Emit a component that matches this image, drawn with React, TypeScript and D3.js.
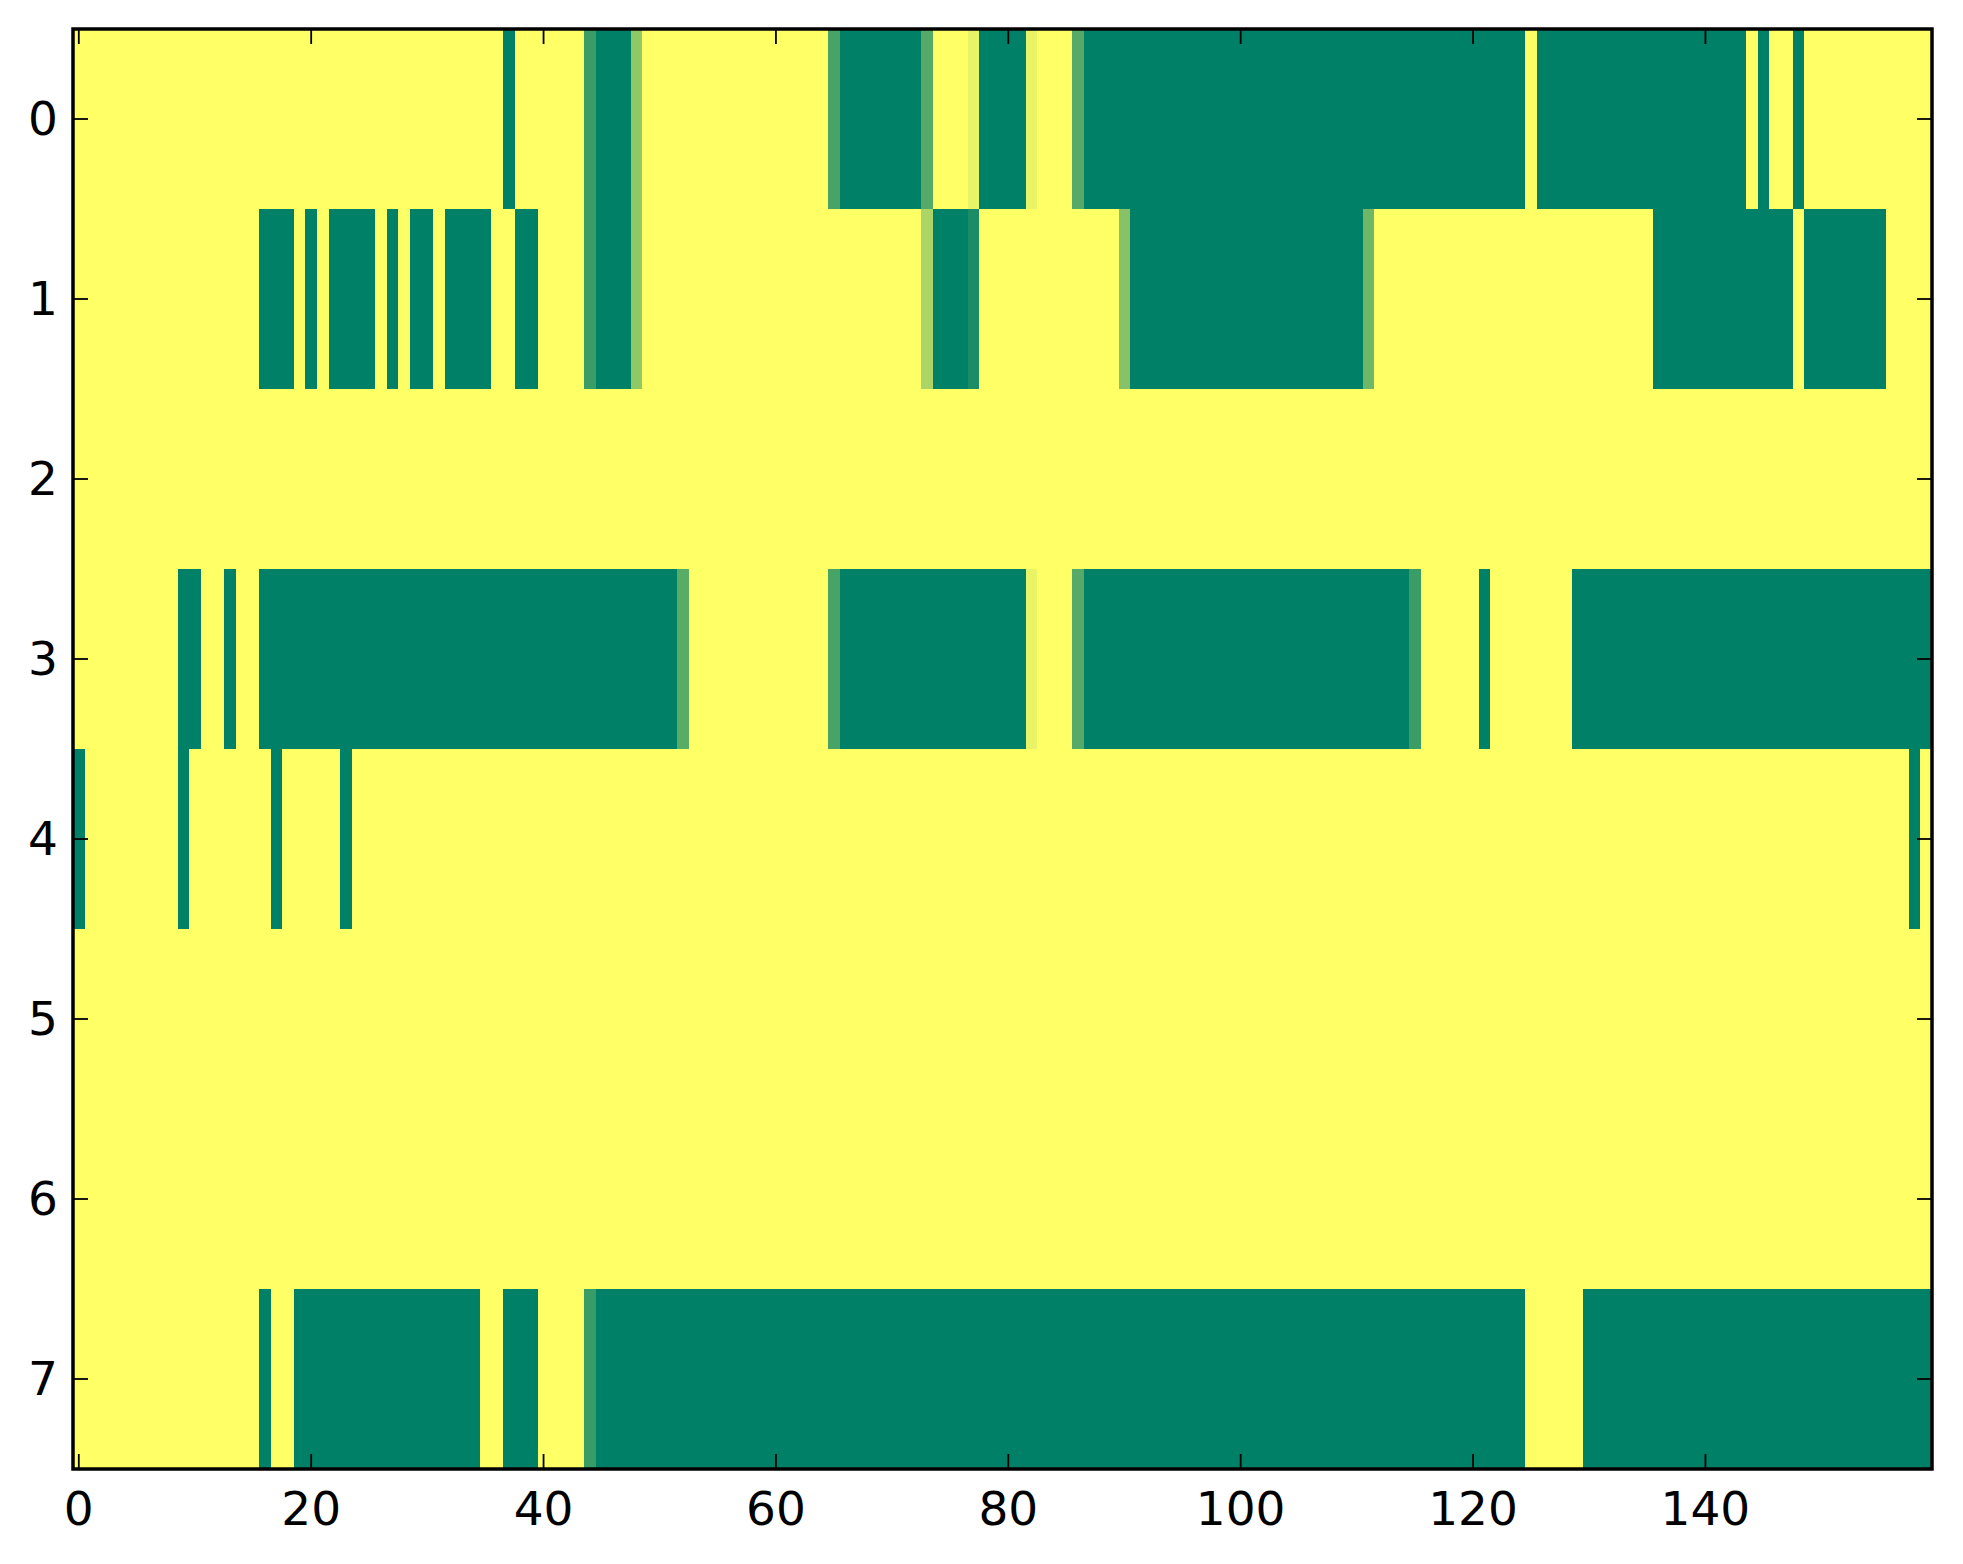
import * as d3 from 'd3'
import { useEffect, useRef } from 'react'

const WIDTH = 1963
const HEIGHT = 1564
const LEFT = 73
const RIGHT = 1932
const TOP = 29
const BOTTOM = 1469
const FONT = '"DejaVu Sans", sans-serif'

// [firstColumn, lastColumn, value]; everything not listed is 0
type Run = [number, number, number]

const N_COLS = 160
const ROW_LABELS = ['0', '1', '2', '3', '4', '5', '6', '7']
const X_TICKS = [0, 20, 40, 60, 80, 100, 120, 140]

const row0: Run[] = [
  [37, 37, 1], [44, 44, 0.77], [45, 47, 1], [48, 48, 0.43], [65, 65, 0.72], [66, 72, 1],
  [73, 73, 0.67], [77, 77, 0.09], [78, 81, 1], [82, 82, 0.09], [86, 86, 0.67], [87, 124, 1],
  [126, 143, 1], [145, 145, 1], [148, 148, 1],
]
const row1: Run[] = [
  [16, 18, 1], [20, 20, 1], [22, 25, 1], [27, 27, 1], [29, 30, 1], [32, 35, 1], [38, 39, 1],
  [44, 44, 0.77], [45, 47, 1], [48, 48, 0.43], [73, 73, 0.33], [74, 76, 1], [77, 77, 0.9],
  [90, 90, 0.47], [91, 110, 1], [111, 111, 0.57], [136, 147, 1], [149, 155, 1],
]
const row2: Run[] = []
const row3: Run[] = [
  [9, 10, 1], [13, 13, 1], [16, 51, 1], [52, 52, 0.65], [65, 65, 0.72], [66, 81, 1],
  [82, 82, 0.09], [86, 86, 0.67], [87, 114, 1], [115, 115, 0.77], [121, 121, 1], [129, 159, 1],
]
const row4: Run[] = [[0, 0, 1], [9, 9, 1], [17, 17, 1], [23, 23, 1], [158, 158, 1]]
const row5: Run[] = []
const row6: Run[] = []
const row7: Run[] = [[16, 16, 1], [19, 34, 1], [37, 39, 1], [44, 44, 0.78], [45, 124, 1], [130, 159, 1]]

const ROWS = [row0, row1, row2, row3, row4, row5, row6, row7]

interface Cell {
  row: number
  col: number
  value: number
}

const buildCells = (): Cell[] => {
  const cells: Cell[] = []
  ROWS.forEach((runs, row) => {
    const values = new Array(N_COLS).fill(0)
    runs.forEach(([a, b, v]) => {
      for (let c = a; c <= b; c++) values[c] = v
    })
    values.forEach((value, col) => cells.push({ row, col, value }))
  })
  return cells
}

function drawChart(): SVGSVGElement {
  const svg = d3
    .create('svg')
    .attr('width', WIDTH)
    .attr('height', HEIGHT)
    .attr('viewBox', [0, 0, WIDTH, HEIGHT])
    .style('position', 'absolute')
    .style('left', '0px')
    .style('top', '0px')
    .style('background', '#fff')

  const x = d3.scaleLinear([-0.5, N_COLS - 0.5], [LEFT, RIGHT])
  const y = d3.scaleLinear([-0.5, ROWS.length - 0.5], [TOP, BOTTOM])
  // summer_r: 0 -> yellow, 1 -> green
  const color = d3.scaleLinear<string>([0, 1], ['#ffff66', '#008066'])

  svg
    .append('g')
    .attr('shape-rendering', 'crispEdges')
    .selectAll('rect')
    .data(buildCells())
    .join('rect')
    .attr('x', (d) => x(d.col - 0.5))
    .attr('y', (d) => y(d.row - 0.5))
    .attr('width', (d) => x(d.col + 0.5) - x(d.col - 0.5))
    .attr('height', (d) => y(d.row + 0.5) - y(d.row - 0.5))
    .attr('fill', (d) => color(d.value))

  const ticks = svg.append('g').attr('stroke', '#000').attr('stroke-width', 1.8)
  X_TICKS.forEach((t) => {
    ticks.append('line').attr('x1', x(t)).attr('x2', x(t)).attr('y1', BOTTOM).attr('y2', BOTTOM - 15)
    ticks.append('line').attr('x1', x(t)).attr('x2', x(t)).attr('y1', TOP).attr('y2', TOP + 15)
  })
  ROW_LABELS.forEach((_, i) => {
    ticks.append('line').attr('x1', LEFT).attr('x2', LEFT + 15).attr('y1', y(i)).attr('y2', y(i))
    ticks.append('line').attr('x1', RIGHT).attr('x2', RIGHT - 15).attr('y1', y(i)).attr('y2', y(i))
  })

  svg
    .append('rect')
    .attr('x', LEFT)
    .attr('y', TOP)
    .attr('width', RIGHT - LEFT)
    .attr('height', BOTTOM - TOP)
    .attr('fill', 'none')
    .attr('stroke', '#000')
    .attr('stroke-width', 3.5)

  svg
    .append('g')
    .attr('font-family', FONT)
    .attr('font-size', 47)
    .attr('fill', '#000')
    .selectAll('text')
    .data(X_TICKS)
    .join('text')
    .attr('x', (d) => x(d))
    .attr('y', BOTTOM + 56)
    .attr('text-anchor', 'middle')
    .text((d) => String(d))

  svg
    .append('g')
    .attr('font-family', FONT)
    .attr('font-size', 47)
    .attr('fill', '#000')
    .selectAll('text')
    .data(ROW_LABELS)
    .join('text')
    .attr('x', 58)
    .attr('y', (_, i) => y(i) + 16)
    .attr('text-anchor', 'end')
    .text((d) => d)

  return svg.node()!
}

export default function App() {
  const ref = useRef<HTMLDivElement>(null)
  useEffect(() => {
    if (!ref.current) return
    const node = drawChart()
    ref.current.appendChild(node)
    return () => {
      node.remove()
    }
  }, [])
  return <div ref={ref} />
}
